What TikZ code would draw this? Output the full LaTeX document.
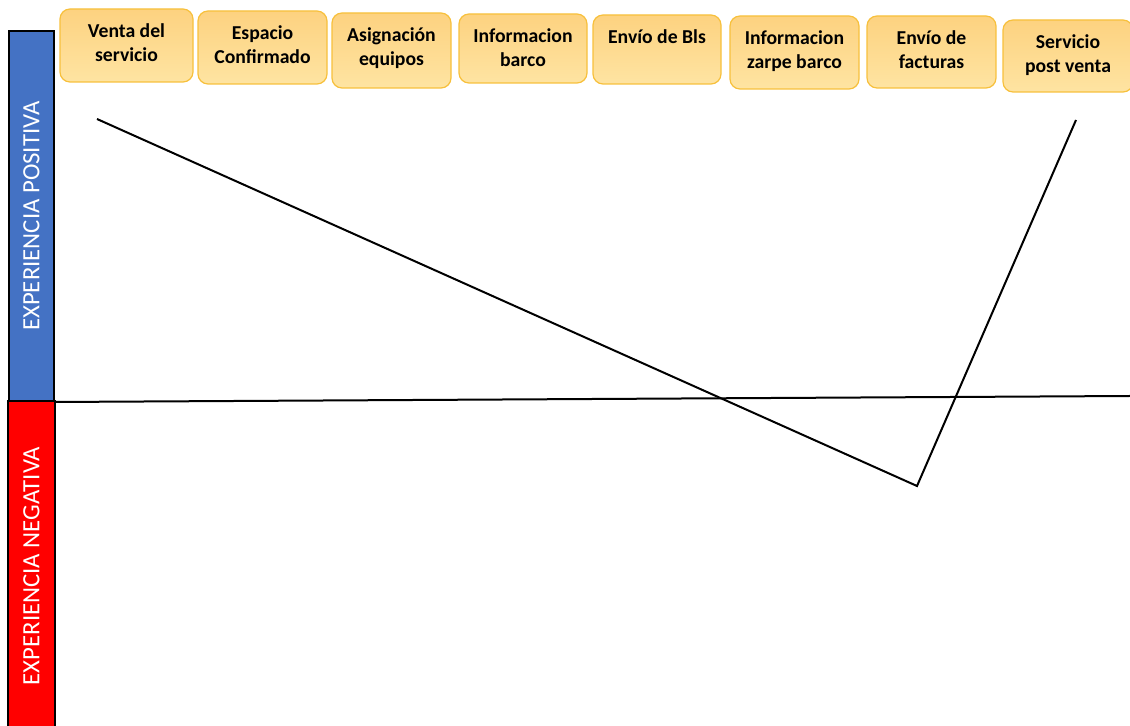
\documentclass[tikz,border=0pt]{standalone}
\usepackage{fontspec}
\setmainfont{Carlito}
\definecolor{barblue}{RGB}{68,114,196}
\definecolor{barred}{RGB}{255,0,0}
\definecolor{boxtop}{RGB}{253,210,128}
\definecolor{boxbot}{RGB}{254,228,162}
\definecolor{boxedge}{RGB}{247,192,60}
\begin{document}
\begin{tikzpicture}[x=0.5pt,y=-0.5pt,
  stepbox/.style n args={2}{draw=boxedge, line width=0.6pt, rounded corners=5pt,
     top color=boxtop, bottom color=boxbot, minimum width=#1*0.5pt, minimum height=#2*0.5pt, inner sep=0pt},
  lbl/.style={anchor=north, align=center, inner sep=0pt, font=\fontsize{9.85}{12}\selectfont\bfseries},
  sidebar/.style={draw=black, line width=1pt, rotate=90, inner sep=0pt, text=white,
     font=\fontsize{12.4}{14}\selectfont},
  journey/.style={line width=1pt, black}]
\useasboundingbox (0,0) rectangle (1130,726);
% side bars
\node[sidebar, fill=barblue, minimum width=370*0.5pt, minimum height=45*0.5pt] (pos) at (31.5,216) {EXPERIENCIA POSITIVA};
\node[sidebar, fill=barred, minimum width=330*0.5pt, minimum height=47*0.5pt] (neg) at (31.5,566) {EXPERIENCIA NEGATIVA};
% axis
\coordinate (ax0) at (55,402);
\coordinate (ax1) at (1130,396);
\draw[line width=1pt] (ax0) -- (ax1);
% boxes
\node[stepbox={133}{73}] (b1) at (126.5,45.5) {};
\node[stepbox={129}{73}] (b2) at (262.5,47.5) {};
\node[stepbox={119}{75}] (b3) at (391.5,50.5) {};
\node[stepbox={128}{69}] (b4) at (523,48.5) {};
\node[stepbox={128}{69}] (b5) at (657,49.5) {};
\node[stepbox={129}{73}] (b6) at (794.5,52.5) {};
\node[stepbox={129}{72}] (b7) at (931.5,52) {};
\node[stepbox={130}{72}] (b8) at (1068,56) {};
\node[lbl] (t1) at ([yshift=-7.5pt]b1.north) {Venta del\\servicio};
\node[lbl] (t2) at ([yshift=-7.5pt]b2.north) {Espacio\\Confirmado};
\node[lbl] (t3) at ([yshift=-7.5pt]b3.north) {Asignación\\equipos};
\node[lbl] (t4) at ([yshift=-7.5pt]b4.north) {Informacion\\barco};
\node[lbl] (t5) at ([yshift=-7.5pt]b5.north) {Envío de Bls};
\node[lbl] (t6) at ([yshift=-7.5pt]b6.north) {Informacion\\zarpe barco};
\node[lbl] (t7) at ([yshift=-7.5pt]b7.north) {Envío de\\facturas};
\node[lbl] (t8) at ([yshift=-7.5pt]b8.north) {Servicio\\post venta};
% journey line
\coordinate (p1) at (97,119);
\coordinate (p2) at (917,486);
\coordinate (p3) at (1076,120);
\draw[journey] (p1) -- (p2) -- (p3);
\end{tikzpicture}
\end{document}
